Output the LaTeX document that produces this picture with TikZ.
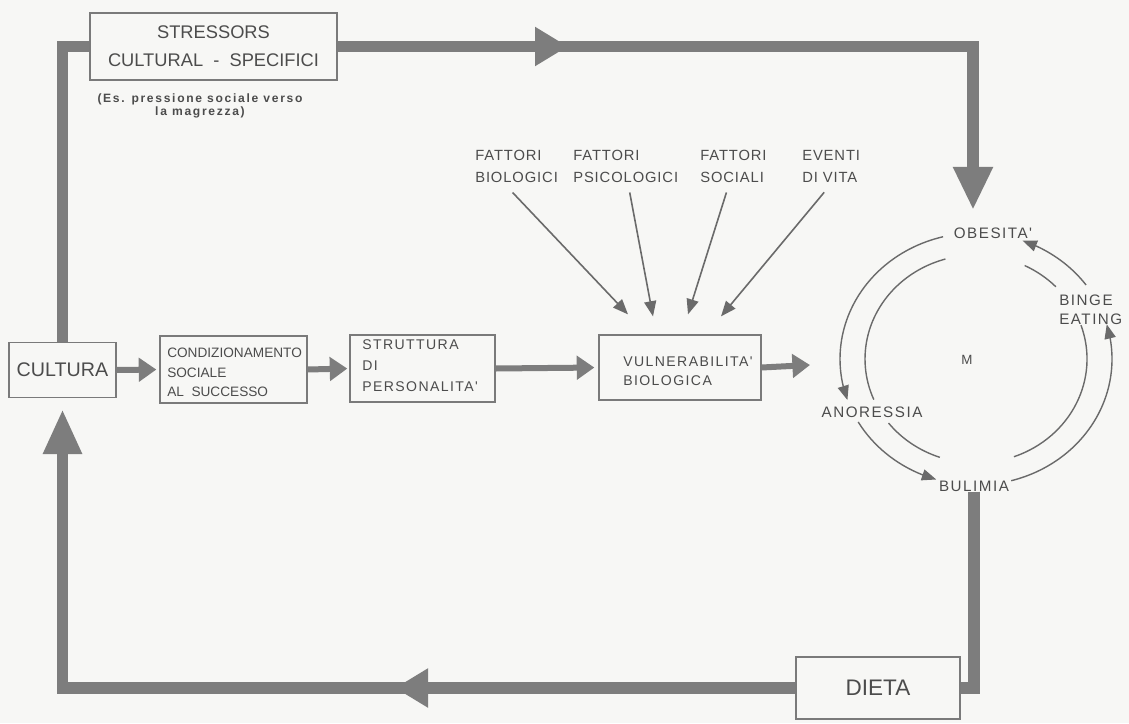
\documentclass[tikz,border=0pt]{standalone}
\usepackage{fontspec}
\setmainfont{Liberation Sans}
\newfontfamily\spaced[LetterSpace=10]{Liberation Sans}
\newfontfamily\wide[LetterSpace=6]{Liberation Sans}
\newfontfamily\airy[LetterSpace=14]{Liberation Sans}
\usetikzlibrary{arrows.meta,bending,calc}
\definecolor{paper}{HTML}{F7F7F5}
\definecolor{ink}{HTML}{4C4C4C}
\definecolor{frame}{HTML}{7A7A7A}
\definecolor{band}{HTML}{7D7D7D}
\definecolor{wire}{HTML}{6A6A6A}
\begin{document}
\begin{tikzpicture}[x=0.025cm,y=-0.025cm,
  box/.style={draw=frame, line width=0.9pt, inner sep=0pt},
  txt/.style={text=ink, inner sep=0pt},
  band/.style={draw=band, line width=0.29cm, line join=miter},
  feed/.style={draw=band, line width=0.15cm, -{Triangle[length=0.44cm,width=0.58cm]}},
  ray/.style={draw=wire, line width=0.04cm, -{Triangle[length=0.38cm,width=0.3cm]}},
  ring/.style={draw=wire, line width=0.035cm},
  ringtip/.style={-{Triangle[length=0.36cm,width=0.28cm]}},
  factor/.style={txt, anchor=west, align=left, font={\wide\fontsize{10.5}{15.6}\selectfont}},
  state/.style={txt, font={\spaced\fontsize{10.8}{13.5}\selectfont}},
]
\fill[paper] (0,0) rectangle (1129,723);
\useasboundingbox (0,0) rectangle (1129,723);

% boxes of the main chain
\node[box, minimum width=6.175cm, minimum height=1.675cm, align=center, text=ink,
      font={\fontsize{13}{20}\selectfont}] (str) at (213.5,46.5)
      {STRESSORS\\CULTURAL \ - \ SPECIFICI};
\node[txt, align=center, font={\airy\bfseries\fontsize{8.6}{9.3}\selectfont}] (note) at (200,106)
      {(Es. pressione sociale verso\\la magrezza)};
\node[box, minimum width=2.675cm, minimum height=1.375cm, text=ink,
      font={\fontsize{14}{16}\selectfont}] (cul) at (62.5,370) {CULTURA};
\node[box, minimum width=3.675cm, minimum height=1.675cm] (con) at (233.5,369.5) {};
\node[txt, anchor=west, align=left, font={\fontsize{9.7}{13.9}\selectfont}] (cont) at (167,372.5)
      {CONDIZIONAMENTO\\SOCIALE\\AL \ SUCCESSO};
\node[box, minimum width=3.625cm, minimum height=1.675cm] (stru) at (422.5,368.5) {};
\node[txt, anchor=west, align=left, font={\spaced\fontsize{10}{15}\selectfont}] (strut) at (362,366)
      {STRUTTURA\\DI\\PERSONALITA'};
\node[box, minimum width=4.05cm, minimum height=1.625cm] (vul) at (680,367.5) {};
\node[txt, anchor=west, align=left, font={\spaced\fontsize{10}{13.5}\selectfont}] (vult) at (623,371)
      {VULNERABILITA'\\BIOLOGICA};
\node[box, minimum width=4.1cm, minimum height=1.55cm, text=ink,
      font={\fontsize{16}{18}\selectfont}] (die) at (878,688) {DIETA};

% factors acting on the vulnerability
\node[factor] (fb) at (475,166) {FATTORI\\BIOLOGICI};
\node[factor] (fp) at (573,166) {FATTORI\\PSICOLOGICI};
\node[factor] (fs) at (700,166) {FATTORI\\SOCIALI};
\node[factor] (fe) at (802,166) {EVENTI\\DI VITA};
\coordinate (t1) at ($(vul.north)+(-52,-20)$);
\coordinate (t2) at ($(vul.north)+(-27,-18)$);
\coordinate (t3) at ($(vul.north)+(8,-20)$);
\coordinate (t4) at ($(vul.north)+(41,-18)$);
\draw[ray] ($(fb.south)+(-4,10)$) -- (t1);
\draw[ray] ($(fp.south)+(4,10)$) -- (t2);
\draw[ray] ($(fs.south)+(-7,10)$) -- (t3);
\draw[ray] ($(fe.south)+(-7,10)$) -- (t4);

% thin arrows along the chain
\coordinate (vtip) at (810,365);
\draw[feed, shorten >=0.075cm] (cul.east) -- (con.west);
\draw[feed, shorten >=0.05cm] (con.east) -- (stru.west);
\draw[feed, shorten >=0.1cm] (stru.east) -- (vul.west);
\draw[feed] (vul.east) -- (vtip);

% eating disorders cycle
\node[state] (obe) at (993,233) {OBESITA'};
\node[state] (bul) at (974,486) {BULIMIA};
\node[state] (ano) at (872,412) {ANORESSIA};
\node[state, anchor=west, align=left] (bin) at (1059,309.5) {BINGE\\EATING};
\node[txt, font={\fontsize{9.5}{11}\selectfont}] (m) at (967,360) {M};
\begin{scope}[shift={(976,359)}]
  \draw[ring, ringtip] (256:136 and 126) arc[start angle=256, end angle=161, x radius=136, y radius=126];
  \draw[ring, ringtip] (150:136 and 126) arc[start angle=150, end angle=107, x radius=136, y radius=126];
  \draw[ring, ringtip] (75:136 and 126) arc[start angle=75, end angle=-16, x radius=136, y radius=126];
  \draw[ring, ringtip] (-36:136 and 126) arc[start angle=-36, end angle=-70, x radius=136, y radius=126];
  \draw[ring] (254:111 and 104) arc[start angle=254, end angle=157, x radius=111, y radius=104];
  \draw[ring] (142:111 and 104) arc[start angle=142, end angle=109, x radius=111, y radius=104];
  \draw[ring] (70:111 and 104) arc[start angle=70, end angle=-19, x radius=111, y radius=104];
  \draw[ring] (-44:111 and 104) arc[start angle=-44, end angle=-64, x radius=111, y radius=104];
\end{scope}

% thick feedback loop
\coordinate (dtip) at (973,210);
\coordinate (tmid) at (568,46.5);
\coordinate (utip) at (62.5,409);
\coordinate (bmid) at (395,688);
\draw[band, -{Triangle[length=1.075cm,width=0.925cm]}] (str.east) -| (dtip);
\draw[band, -{Triangle[length=0.825cm,width=0.925cm]}] (str.east) -- (tmid);
\draw[band] (cul.north) |- (str.west);
\draw[band] (bul.south) |- (die.east);
\draw[band, -{Triangle[length=1.125cm,width=0.9cm]}] (die.west) -| (utip);
\draw[band, -{Triangle[length=0.825cm,width=0.925cm]}] (die.west) -- (bmid);
\end{tikzpicture}
\end{document}
